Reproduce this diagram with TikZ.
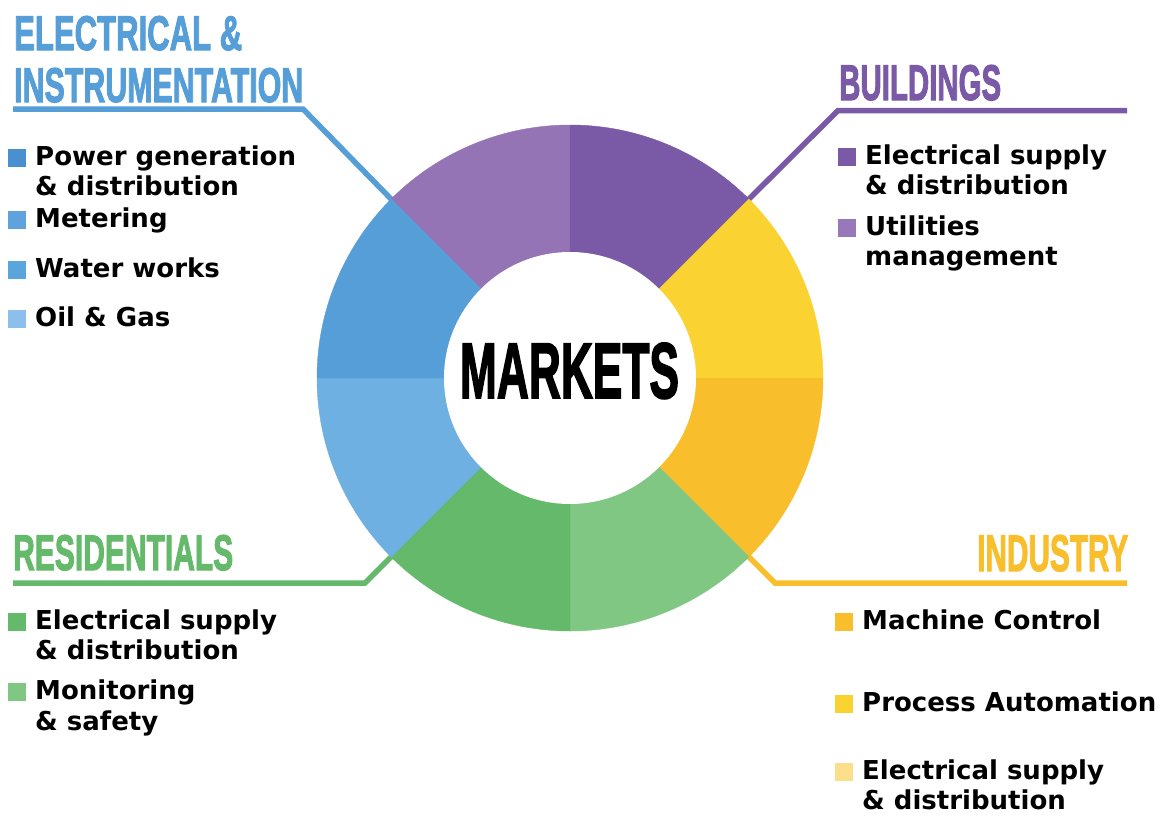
\documentclass[tikz,border=0pt]{standalone}
\usepackage{fontspec}
\usepackage{graphicx}
\setmainfont{DejaVu Sans}
\newfontfamily\titlefont{Liberation Sans}[BoldFont={Liberation Sans Bold}, BoldFeatures={FakeBold=2.5}]
\usetikzlibrary{calc}
\definecolor{cPurL}{HTML}{9474B4}
\definecolor{cPurD}{HTML}{7A59A6}
\definecolor{cYel}{HTML}{FAD232}
\definecolor{cOra}{HTML}{F9BE2B}
\definecolor{cGrnL}{HTML}{80C784}
\definecolor{cGrnD}{HTML}{64BA6A}
\definecolor{cBluL}{HTML}{6EB0E1}
\definecolor{cBluD}{HTML}{559ED8}
\definecolor{bBlu1}{HTML}{4A90D0}
\definecolor{bBlu2}{HTML}{5EA3DC}
\definecolor{bBlu3}{HTML}{5BA5DD}
\definecolor{bBlu4}{HTML}{8CC0EA}
\definecolor{bPur2}{HTML}{9878B8}
\definecolor{bYelL}{HTML}{FBDF8A}
\tikzset{
  item/.style={anchor=base west, inner sep=0pt, font=\fontsize{26pt}{30pt}\selectfont\bfseries},
  bulletsq/.style={fill=#1, minimum size=18pt, inner sep=0pt, draw=none, rectangle},
  ttl/.style={anchor=base west, inner sep=0pt, text=#1},
  guide/.style={line width=5.5pt, draw=#1, line cap=butt},
  wedge/.style={fill=#1, draw=#1, line width=0.4pt}
}
\begin{document}
\begin{tikzpicture}[x=1pt,y=1pt]
\useasboundingbox (0,0) rectangle (1165,-816);
\fill[white] (0,0) rectangle (1165,-816);
\coordinate (C) at (570,-378);
% guide lines
\coordinate (eiS) at (13,-109);
\coordinate (eiK) at (303,-109);
\coordinate (eiE) at ($(C)+(135:250)$);
\coordinate (buS) at (1127,-110.5);
\coordinate (buK) at (838,-110.5);
\coordinate (buE) at ($(C)+(45:250)$);
\coordinate (reS) at (13,-583);
\coordinate (reK) at (365,-583);
\coordinate (reE) at ($(C)+(225:250)$);
\coordinate (inS) at (1127,-583);
\coordinate (inK) at (775,-583);
\coordinate (inE) at ($(C)+(-45:250)$);
\draw[guide=cBluD] (eiS) -- (eiK) -- (eiE);
\draw[guide=cPurD] (buS) -- (buK) -- (buE);
\draw[guide=cGrnD] (reS) -- (reK) -- (reE);
\draw[guide=cOra] (inS) -- (inK) -- (inE);
% ring
\foreach \a/\b/\c in {90/135/cPurL,45/90/cPurD,0/45/cYel,-45/0/cOra,-90/-45/cGrnL,-135/-90/cGrnD,180/225/cBluL,135/180/cBluD}{
  \filldraw[wedge=\c] (C) -- ++(\a:253) arc[start angle=\a, end angle=\b, radius=253] -- cycle;
}
\fill[white] (C) circle[radius=126];
\node[inner sep=0pt, anchor=base] (mk) at (569.5,-398) {\resizebox{219pt}{55pt}{\titlefont\bfseries MARKETS}};
% titles
\node[ttl=cBluD] (t1a) at (14,-50) {\resizebox{228pt}{34pt}{\titlefont\bfseries ELECTRICAL \&}};
\node[ttl=cBluD] (t1b) at (14,-102) {\resizebox{289pt}{34pt}{\titlefont\bfseries INSTRUMENTATION}};
\node[ttl=cPurD] (t2) at (839,-100) {\resizebox{162pt}{35pt}{\titlefont\bfseries BUILDINGS}};
\node[ttl=cGrnD] (t3) at (13,-570) {\resizebox{220pt}{35pt}{\titlefont\bfseries RESIDENTIALS}};
\node[ttl=cOra] (t4) at (977,-571) {\resizebox{151pt}{36pt}{\titlefont\bfseries INDUSTRY}};
% E&I items
\node[bulletsq=bBlu1] (b11) at (17,-157.5) {};
\node[item] (i11) at (35,-165) {Power generation};
\node[item] (i11b) at (35,-195) {\& distribution};
\node[bulletsq=bBlu2] (b12) at (17,-219.5) {};
\node[item] (i12) at (35,-227) {Metering};
\node[bulletsq=bBlu3] (b13) at (17,-269.5) {};
\node[item] (i13) at (35,-277) {Water works};
\node[bulletsq=bBlu4] (b14) at (17,-318.5) {};
\node[item] (i14) at (35,-326) {Oil \& Gas};
% Buildings items
\node[bulletsq=cPurD] (b21) at (847,-156.5) {};
\node[item] (i21) at (865,-164) {Electrical supply};
\node[item] (i21b) at (865,-194) {\& distribution};
\node[bulletsq=bPur2] (b22) at (847,-227.5) {};
\node[item] (i22) at (865,-235) {Utilities};
\node[item] (i22b) at (865,-265) {management};
% Residentials items
\node[bulletsq=cGrnD] (b31) at (17,-621.5) {};
\node[item] (i31) at (35,-629) {Electrical supply};
\node[item] (i31b) at (35,-659) {\& distribution};
\node[bulletsq=cGrnL] (b32) at (17,-691.5) {};
\node[item] (i32) at (35,-699) {Monitoring};
\node[item] (i32b) at (35,-730) {\& safety};
% Industry items
\node[bulletsq=cOra] (b41) at (844,-621.5) {};
\node[item] (i41) at (862,-629) {Machine Control};
\node[bulletsq=cYel] (b42) at (844,-703.5) {};
\node[item] (i42) at (862,-711) {Process Automation};
\node[bulletsq=bYelL] (b43) at (844,-771.5) {};
\node[item] (i43) at (862,-779) {Electrical supply};
\node[item] (i43b) at (862,-809) {\& distribution};
\end{tikzpicture}
\end{document}
